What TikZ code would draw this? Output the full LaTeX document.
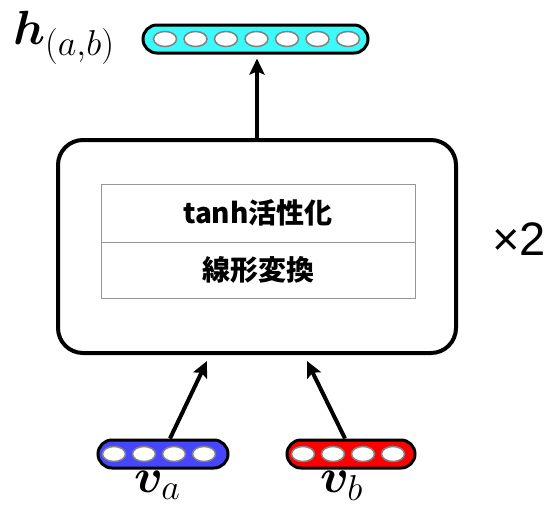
\RequirePackage{fix-cm}
\documentclass[tikz,border=0pt]{standalone}
\usepackage{bm}
\usepackage{fontspec}
\newfontfamily\cjkfont{Noto Sans CJK JP}
\newfontfamily\labelfont{Liberation Sans}
\newcommand{\bigsub}[1]{\mbox{\fontsize{36}{40}\selectfont$#1$}}
\usetikzlibrary{arrows.meta,shapes.geometric}
\definecolor{cyanv}{RGB}{60,250,250}
\definecolor{bluev}{RGB}{70,70,255}
\definecolor{redv}{RGB}{255,0,0}
\definecolor{cellgray}{RGB}{150,150,150}
\definecolor{unitgray}{RGB}{130,130,130}
\begin{document}
\begin{tikzpicture}[x=1pt,y=-1pt,
  vec/.style={draw=black, line width=3pt, rounded corners=14pt, minimum height=28pt, inner sep=0pt},
  unit/.style={ellipse, draw=unitgray, line width=1.5pt, fill=white, minimum width=23pt, minimum height=15pt, inner sep=0pt},
  bigbox/.style={draw=black, line width=4pt, rounded corners=25pt, inner sep=0pt},
  cell/.style={draw=cellgray, line width=1pt, minimum width=314pt, inner sep=0pt, font=\cjkfont\bfseries\fontsize{28}{30}\selectfont},
  arr/.style={line width=4pt, -{Stealth[length=16pt,width=15pt,inset=3pt]}},
  mathlabel/.style={inner sep=0pt, font=\fontsize{48}{52}\selectfont}]
\useasboundingbox (0,0) rectangle (547,506);

% output vector
\node[vec, fill=cyanv, minimum width=225pt] (hvec) at (255.5,39) {};
\foreach \i in {0,...,6} {
  \node[unit] (hu\i) at (165+30.5*\i,39) {};
}
\node[mathlabel, anchor=base west] (hlabel) at (13,45) {$\bm{h}_{\bigsub{(a{,}b)}}$};

% main box
\node[bigbox, minimum width=398pt, minimum height=213pt] (mainbox) at (257,246.5) {};
\node[cell, minimum height=58pt] (cellA) at (258,213) {tanh活性化};
\node[cell, minimum height=56pt] (cellB) at (258,270) {線形変換};
\node[inner sep=0pt, font=\labelfont\fontsize{47}{50}\selectfont] (times) at (519,239) {×2};

% input vectors
\node[vec, fill=bluev, minimum width=130pt] (va) at (163,454) {};
\node[vec, fill=redv, minimum width=128pt] (vb) at (351,454) {};
\foreach \i in {0,...,3} {
  \node[unit] (au\i) at (114+30*\i,454) {};
  \node[unit] (bu\i) at (303+30*\i,454) {};
}
\node[mathlabel, anchor=base west] (valabel) at (134,492) {$\bm{v}_{\bigsub{a}}$};
\node[mathlabel, anchor=base west] (vblabel) at (320,492) {$\bm{v}_{\bigsub{b}}$};

% connectors
\draw[arr] (mainbox.north) -- ([xshift=1.5pt,yshift=-4pt]hvec.south);
\draw[arr] ([xshift=7pt]va.north) -- ([xshift=-50pt,yshift=-6pt]mainbox.south);
\draw[arr] ([xshift=-6pt]vb.north) -- ([xshift=50pt,yshift=-6pt]mainbox.south);
\end{tikzpicture}
\end{document}
